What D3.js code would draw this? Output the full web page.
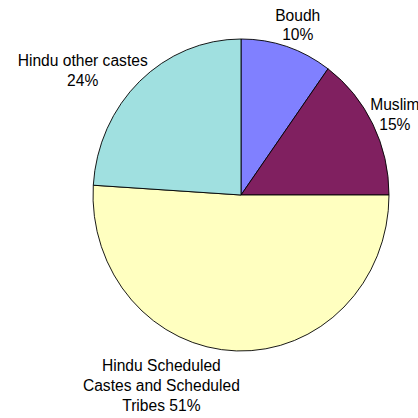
<!DOCTYPE html>
<html>
<head>
<meta charset="utf-8">
<script src="https://cdn.jsdelivr.net/npm/d3@7"></script>
<style>
  html, body { margin: 0; padding: 0; background: #fff; }
  svg { display: block; }
  .lbl { font-family: "Liberation Sans", Arial, sans-serif; font-size: 15.6px; fill: #000; }
</style>
</head>
<body>
<script>
(function() {
	"use strict";
	const CATEGORIES = ["Boudh", "Muslim", "Hindu Scheduled Castes and Scheduled Tribes", "Hindu other castes"],
	   LABEL_LINES = [["Boudh"], ["Muslim"], ["Hindu Scheduled", "Castes and Scheduled", "Tribes"], ["Hindu other castes"]],
	   SHARES = [10, 15, 51, 24],
	   COLORS = ["#8080ff", "#802060", "#ffffc0", "#a0e0e0"];

	const W = 418, H = 418,
	   cx = 241, cy = 195, rx = 148, ry = 156,
	   lineH = 19.8;
	// label offsets from the rim point at each slice's mid angle (first baseline, block centre x)
	const nudge = [[11, -26], [22, -14], [-75, 20], [-57, -15.5]];

	const svg = d3.select("body").append("svg").attr("width", W).attr("height", H);

	const pie = d3.pie().sort(null).value(d => d)(SHARES);
	const arc = d3.arc().innerRadius(0).outerRadius(rx);

	const g = svg.append("g").attr("transform", `translate(${cx},${cy}) scale(1,${ry / rx})`);
	g.selectAll("path").data(pie).enter().append("path")
		.attr("d", arc)
		.attr("fill", (d, i) => COLORS[i])
		.attr("stroke", "#000")
		.attr("stroke-width", 0.9)
		.attr("vector-effect", "non-scaling-stroke");

	const labels = svg.selectAll("text.lbl").data(pie).enter().append("text")
		.attr("class", "lbl")
		.attr("text-anchor", "middle")
		.attr("transform", (d, i) => {
			const a = (d.startAngle + d.endAngle) / 2,
			   x = cx + rx * Math.sin(a) + nudge[i][0],
			   y = cy - ry * Math.cos(a) + nudge[i][1];
			return `translate(${x},${y})`;
		});

	labels.each(function(d, i) {
		const pct = Math.round(d.value / d3.sum(SHARES) * 100) + "%";
		let lines = LABEL_LINES[i].slice();
		if (lines.length > 1) lines[lines.length - 1] += " " + pct;
		else lines.push(pct);
		d3.select(this).selectAll("tspan").data(lines).enter().append("tspan")
			.attr("x", 0).attr("y", (l, j) => j * lineH)
			.text(l => l);
	});
}());
</script>
</body>
</html>
